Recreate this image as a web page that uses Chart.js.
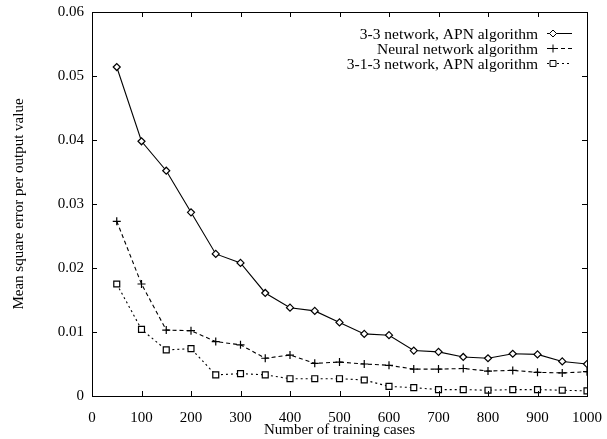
<!DOCTYPE html>
<html>
<head>
<meta charset="utf-8">
<script src="https://cdn.jsdelivr.net/npm/chart.js@4/dist/chart.umd.min.js"></script>
<style>
  html, body { margin: 0; padding: 0; background: #fff; }
  #wrap { width: 607px; height: 439px; }
</style>
</head>
<body>
<div id="wrap"><canvas id="chart"></canvas></div>
<script>
// training cases (x)
var cases = [50, 100, 150, 200, 250, 300, 350, 400, 450, 500,
             550, 600, 650, 700, 750, 800, 850, 900, 950, 1000];

var labels = [
    "3-3 network, APN algorithm",
    "Neural network algorithm",
    "3-1-3 network, APN algorithm"
];

var apn33 = [0.0514, 0.0398, 0.0352, 0.0287, 0.0222, 0.0208, 0.0161, 0.0138, 0.0133, 0.0115,
             0.0097, 0.0095, 0.0071, 0.0069, 0.0061, 0.0059, 0.0066, 0.0065, 0.0054, 0.0050];
var neural = [0.0273, 0.0175, 0.0103, 0.0102, 0.0085, 0.0080, 0.0059, 0.0064, 0.0051, 0.0053,
              0.0050, 0.0048, 0.0042, 0.0042, 0.0043, 0.0039, 0.0040, 0.0037, 0.0036, 0.0038];
var apn313 = [0.0175, 0.0104, 0.0072, 0.0074, 0.0033, 0.0035, 0.0033, 0.0027, 0.0027, 0.0027,
              0.0025, 0.0015, 0.0013, 0.0010, 0.0010, 0.0009, 0.0010, 0.0010, 0.0009, 0.0008];

var xTicks = [0, 100, 200, 300, 400, 500, 600, 700, 800, 900, 1000];
var yTicks = [0, 0.01, 0.02, 0.03, 0.04, 0.05, 0.06];

var FONT = "'Liberation Serif', 'DejaVu Serif', serif";

function pairs(ys) {
    var out = [];
    for (var i = 0; i < cases.length; i++)
        out.push({ x: cases[i], y: ys[i] });
    return out;
}

// gnuplot-like frame with inward ticks on all four sides
var framePlugin = {
    id: 'frame',
    afterDatasetsDraw: function (chart) {
        var ctx = chart.ctx;
        var a = chart.chartArea;
        var xs = chart.scales.x, ys = chart.scales.y;
        var len = 5;
        ctx.save();
        ctx.strokeStyle = '#000';
        ctx.lineWidth = 1;
        ctx.beginPath();
        for (var i = 0; i < xTicks.length; i++) {
            var px = Math.round(xs.getPixelForValue(xTicks[i])) + 0.5;
            ctx.moveTo(px, a.bottom); ctx.lineTo(px, a.bottom - len);
            ctx.moveTo(px, a.top); ctx.lineTo(px, a.top + len);
        }
        for (var j = 0; j < yTicks.length; j++) {
            var py = Math.round(ys.getPixelForValue(yTicks[j])) + 0.5;
            ctx.moveTo(a.left, py); ctx.lineTo(a.left + len, py);
            ctx.moveTo(a.right, py); ctx.lineTo(a.right - len, py);
        }
        ctx.stroke();
        ctx.strokeRect(Math.round(a.left) + 0.5, Math.round(a.top) + 0.5,
                       Math.round(a.right - a.left), Math.round(a.bottom - a.top));
        ctx.restore();
    }
};

// key in the top right corner, text right-aligned before the sample
var keyPlugin = {
    id: 'key',
    afterDraw: function (chart) {
        var ctx = chart.ctx;
        var a = chart.chartArea;
        var textRight = a.right - 49;
        var lineL = a.right - 40, lineR = a.right - 15;
        var y0 = a.top + 20.5;
        ctx.save();
        ctx.font = '15.5px ' + FONT;
        ctx.textAlign = 'right';
        ctx.textBaseline = 'middle';
        chart.data.datasets.forEach(function (ds, i) {
            var y = Math.round(y0 + i * 15) + 0.5;
            ctx.fillStyle = '#000';
            ctx.fillText(ds.label, textRight, y + 1);
            ctx.strokeStyle = '#000';
            ctx.lineWidth = 1;
            ctx.setLineDash(ds.borderDash || []);
            ctx.beginPath();
            ctx.moveTo(lineL, y); ctx.lineTo(lineR, y);
            ctx.stroke();
            ctx.setLineDash([]);
            ctx.fillStyle = '#fff';
            Chart.helpers.drawPoint(ctx, {
                pointStyle: ds.pointStyle,
                radius: ds.pointRadius,
                borderWidth: 1
            }, lineL + 6, y);
        });
        ctx.restore();
    }
};

var config = {
    type: 'line',
    plugins: [framePlugin, keyPlugin],
    data: {
        datasets: [{
            label: labels[0],
            data: pairs(apn33),
            borderColor: '#000',
            backgroundColor: '#fff',
            borderWidth: 1.1,
            pointStyle: 'rectRot',
            pointRadius: 3.5,
            pointBorderWidth: 1.2
        }, {
            label: labels[1],
            data: pairs(neural),
            borderColor: '#000',
            backgroundColor: '#fff',
            borderWidth: 1.1,
            borderDash: [4, 3],
            pointStyle: 'cross',
            pointRadius: 4,
            pointBorderWidth: 1.2
        }, {
            label: labels[2],
            data: pairs(apn313),
            borderColor: '#000',
            backgroundColor: '#fff',
            borderWidth: 1.1,
            borderDash: [2, 3],
            pointStyle: 'rect',
            pointRadius: 4.2,
            pointBorderWidth: 1.2
        }]
    },
    options: {
        responsive: true,
        maintainAspectRatio: false,
        animation: false,
        layout: { padding: { left: 0, top: 12, right: 15, bottom: 0 } },
        plugins: {
            legend: { display: false },
            tooltip: { enabled: false }
        },
        scales: {
            x: {
                type: 'linear',
                min: 0,
                max: 1000,
                grid: { display: false },
                border: { display: false },
                ticks: {
                    stepSize: 100,
                    color: '#000',
                    padding: 5,
                    maxRotation: 0,
                    font: { family: FONT, size: 15 },
                    callback: function (v) { return String(v); }
                },
                title: {
                    display: true,
                    text: 'Number of training cases',
                    color: '#000',
                    padding: { top: 0, bottom: 0 },
                    font: { family: FONT, size: 15 }
                },
                afterFit: function (scale) { scale.height = 43; }
            },
            y: {
                min: 0,
                max: 0.06,
                grid: { display: false },
                border: { display: false },
                ticks: {
                    stepSize: 0.01,
                    color: '#000',
                    padding: 0,
                    font: { family: FONT, size: 15 },
                    callback: function (v) { return v === 0 ? '0' : v.toFixed(2); }
                },
                title: {
                    display: true,
                    text: 'Mean square error per output value',
                    color: '#000',
                    padding: { top: 10, bottom: 0 },
                    font: { family: FONT, size: 15 }
                },
                afterFit: function (scale) { scale.width = 92; }
            }
        }
    }
};

new Chart(document.getElementById('chart').getContext('2d'), config);
</script>
</body>
</html>
